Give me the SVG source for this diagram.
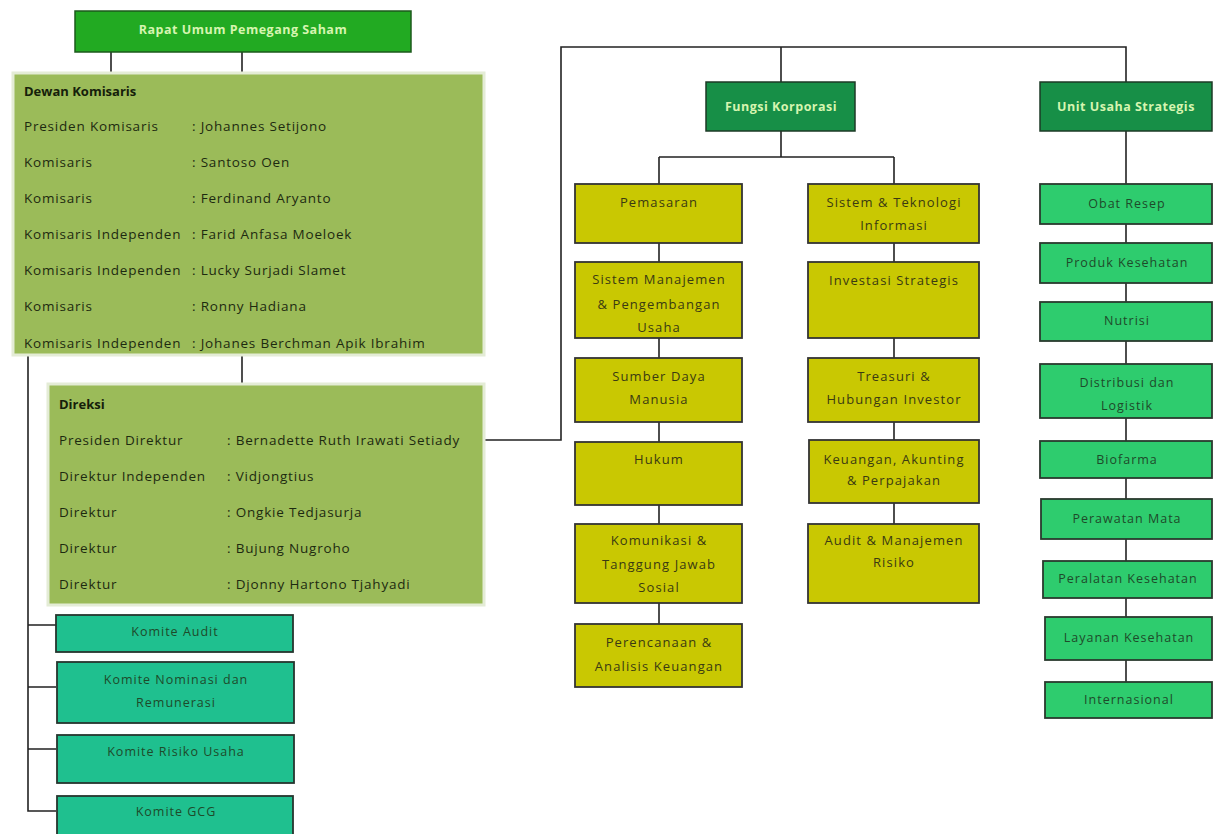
<svg xmlns="http://www.w3.org/2000/svg" width="1215" height="834" viewBox="0 0 1215 834">
<style>
.bg{fill:#ffffff}
.line{stroke:#222;stroke-width:1.6;fill:none}
.rups{fill:#22aa22;stroke:#1c5a1c;stroke-width:1.5}
.panel{fill:#9bbb59;stroke:#e4ecd6;stroke-width:3}
.dark{fill:#178f47;stroke:#1d3a26;stroke-width:1.5}
.yel{fill:#c9c802;stroke:#333;stroke-width:1.8}
.grn{fill:#2ecc6e;stroke:#2a3a2e;stroke-width:1.8}
.teal{fill:#1fc08f;stroke:#26352e;stroke-width:1.8}
text{font-family:"Open Sans","Liberation Sans",sans-serif}
.tw{font-size:12.5px;font-weight:bold;fill:#d6f5b0;text-anchor:middle;letter-spacing:0.5px}
.tp{font-size:13.5px;fill:#1d2a10;letter-spacing:0.8px}
.tph{font-size:13px;font-weight:bold;fill:#15200a}
.tb{font-size:13px;fill:#3a3a12;text-anchor:middle;letter-spacing:1.1px}
.tg{font-size:12.5px;fill:#1e4a2a;text-anchor:middle;letter-spacing:1px}
</style>
<rect class="bg" x="0" y="0" width="1215" height="834"/>
<g id="connectors">
<path class="line" d="M111 52V80M242 52V73"/>
<path class="line" d="M242 355V384"/>
<path class="line" d="M28 355V811H56M28 625H56M28 687H56M28 749H56"/>
<path class="line" d="M484 440H561V47H1126V82M781 47V82"/>
<path class="line" d="M781 131V157M659 157H894M659 157V184M894 157V184"/>
<path class="line" d="M659 243V262M659 338V358M659 422V442M659 505V524M659 603V624"/>
<path class="line" d="M894 243V262M894 338V358M894 422V440M894 503V524"/>
<path class="line" d="M1126 131V184M1126 224V243M1126 283V302M1126 341V364M1126 418V441M1126 478V499M1126 539V561M1126 598V617M1126 660V682"/>
</g>
<g id="rups"><rect class="rups" x="75" y="11" width="336" height="41"/><text class="tw" x="243" y="34">Rapat Umum Pemegang Saham</text></g>
<g id="dewan-komisaris">
<rect class="panel" x="13" y="73" width="471" height="282"/>
<text class="tph" x="24" y="96">Dewan Komisaris</text>
<text class="tp" x="24" y="131">Presiden Komisaris</text><text class="tp" x="192" y="131">: Johannes Setijono</text>
<text class="tp" x="24" y="167">Komisaris</text><text class="tp" x="192" y="167">: Santoso Oen</text>
<text class="tp" x="24" y="203">Komisaris</text><text class="tp" x="192" y="203">: Ferdinand Aryanto</text>
<text class="tp" x="24" y="239">Komisaris Independen</text><text class="tp" x="192" y="239">: Farid Anfasa Moeloek</text>
<text class="tp" x="24" y="275">Komisaris Independen</text><text class="tp" x="192" y="275">: Lucky Surjadi Slamet</text>
<text class="tp" x="24" y="311">Komisaris</text><text class="tp" x="192" y="311">: Ronny Hadiana</text>
<text class="tp" x="24" y="348">Komisaris Independen</text><text class="tp" x="192" y="348">: Johanes Berchman Apik Ibrahim</text>
</g>
<g id="direksi">
<rect class="panel" x="48" y="384" width="436" height="221"/>
<text class="tph" x="59" y="409">Direksi</text>
<text class="tp" x="59" y="445">Presiden Direktur</text><text class="tp" x="227" y="445">: Bernadette Ruth Irawati Setiady</text>
<text class="tp" x="59" y="481">Direktur Independen</text><text class="tp" x="227" y="481">: Vidjongtius</text>
<text class="tp" x="59" y="517">Direktur</text><text class="tp" x="227" y="517">: Ongkie Tedjasurja</text>
<text class="tp" x="59" y="553">Direktur</text><text class="tp" x="227" y="553">: Bujung Nugroho</text>
<text class="tp" x="59" y="589">Direktur</text><text class="tp" x="227" y="589">: Djonny Hartono Tjahyadi</text>
</g>
<g id="komite-audit"><rect class="teal" x="56" y="615" width="237" height="37"/><text class="tg" x="175" y="636">Komite Audit</text></g>
<g id="komite-nominasi"><rect class="teal" x="57" y="662" width="237" height="61"/><text class="tg" x="176" y="684">Komite Nominasi dan</text><text class="tg" x="176" y="707">Remunerasi</text></g>
<g id="komite-risiko"><rect class="teal" x="57" y="735" width="237" height="48"/><text class="tg" x="176" y="756">Komite Risiko Usaha</text></g>
<g id="komite-gcg"><rect class="teal" x="57" y="796" width="236" height="40"/><text class="tg" x="176" y="816">Komite GCG</text></g>
<g id="fungsi-korporasi"><rect class="dark" x="706" y="82" width="149" height="49"/><text class="tw" x="781" y="111">Fungsi Korporasi</text></g>
<g id="unit-usaha-strategis"><rect class="dark" x="1040" y="82" width="172" height="49"/><text class="tw" x="1126" y="111">Unit Usaha Strategis</text></g>
<g id="pemasaran"><rect class="yel" x="575" y="184" width="167" height="59"/><text class="tb" x="659" y="207">Pemasaran</text></g>
<g id="sistem-manajemen"><rect class="yel" x="575" y="262" width="167" height="76"/><text class="tb" x="659" y="284">Sistem Manajemen</text><text class="tb" x="659" y="309">&amp; Pengembangan</text><text class="tb" x="659" y="332">Usaha</text></g>
<g id="sdm"><rect class="yel" x="575" y="358" width="167" height="64"/><text class="tb" x="659" y="381">Sumber Daya</text><text class="tb" x="659" y="404">Manusia</text></g>
<g id="hukum"><rect class="yel" x="575" y="442" width="167" height="63"/><text class="tb" x="659" y="464">Hukum</text></g>
<g id="komunikasi"><rect class="yel" x="575" y="524" width="167" height="79"/><text class="tb" x="659" y="545">Komunikasi &amp;</text><text class="tb" x="659" y="569">Tanggung Jawab</text><text class="tb" x="659" y="592">Sosial</text></g>
<g id="perencanaan"><rect class="yel" x="575" y="624" width="167" height="63"/><text class="tb" x="659" y="647">Perencanaan &amp;</text><text class="tb" x="659" y="671">Analisis Keuangan</text></g>
<g id="sistem-teknologi"><rect class="yel" x="808" y="184" width="171" height="59"/><text class="tb" x="894" y="207">Sistem &amp; Teknologi</text><text class="tb" x="894" y="230">Informasi</text></g>
<g id="investasi"><rect class="yel" x="808" y="262" width="171" height="76"/><text class="tb" x="894" y="285">Investasi Strategis</text></g>
<g id="treasuri"><rect class="yel" x="808" y="358" width="171" height="64"/><text class="tb" x="894" y="381">Treasuri &amp;</text><text class="tb" x="894" y="404">Hubungan Investor</text></g>
<g id="keuangan"><rect class="yel" x="809" y="440" width="170" height="63"/><text class="tb" x="894" y="464">Keuangan, Akunting</text><text class="tb" x="894" y="485">&amp; Perpajakan</text></g>
<g id="audit-risiko"><rect class="yel" x="808" y="524" width="171" height="79"/><text class="tb" x="894" y="545">Audit &amp; Manajemen</text><text class="tb" x="894" y="567">Risiko</text></g>
<g id="obat-resep"><rect class="grn" x="1040" y="184" width="172" height="40"/><text class="tg" x="1127" y="208">Obat Resep</text></g>
<g id="produk-kesehatan"><rect class="grn" x="1040" y="243" width="172" height="40"/><text class="tg" x="1127" y="267">Produk Kesehatan</text></g>
<g id="nutrisi"><rect class="grn" x="1040" y="302" width="172" height="39"/><text class="tg" x="1127" y="325">Nutrisi</text></g>
<g id="distribusi"><rect class="grn" x="1040" y="364" width="172" height="54"/><text class="tg" x="1127" y="387">Distribusi dan</text><text class="tg" x="1127" y="410">Logistik</text></g>
<g id="biofarma"><rect class="grn" x="1040" y="441" width="172" height="37"/><text class="tg" x="1127" y="464">Biofarma</text></g>
<g id="perawatan-mata"><rect class="grn" x="1041" y="499" width="171" height="40"/><text class="tg" x="1127" y="523">Perawatan Mata</text></g>
<g id="peralatan-kesehatan"><rect class="grn" x="1043" y="561" width="169" height="37"/><text class="tg" x="1128" y="583">Peralatan Kesehatan</text></g>
<g id="layanan-kesehatan"><rect class="grn" x="1045" y="617" width="167" height="43"/><text class="tg" x="1129" y="642">Layanan Kesehatan</text></g>
<g id="internasional"><rect class="grn" x="1045" y="682" width="167" height="36"/><text class="tg" x="1129" y="704">Internasional</text></g>
</svg>
